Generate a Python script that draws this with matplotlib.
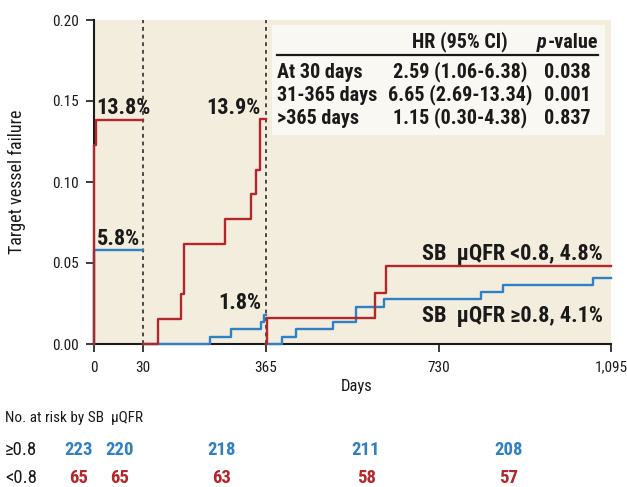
import numpy as np
import matplotlib
matplotlib.use("Agg")
import matplotlib.pyplot as plt
from matplotlib.patches import Rectangle
from matplotlib.lines import Line2D

# ---- data -------------------------------------------------------------
# cumulative incidence, landmark segments (days, value) for each group
red_t1 = [0, 0, 1, 30]
red_v1 = [0, 0.123, 0.138, 0.138]
blue_t1 = [0, 0, 30]
blue_v1 = [0, 0.058, 0.058]

red_t2 = [30, 72, 133, 143, 253, 324, 340, 350, 365]
red_v2 = [0, 0.0154, 0.0308, 0.0615, 0.0769, 0.0923, 0.1077, 0.139, 0.139]
blue_t2 = [30, 213, 269, 353, 360, 365]
blue_v2 = [0, 0.0045, 0.0091, 0.0136, 0.018, 0.018]

red_t3 = [365, 368, 596, 618, 1095]
red_v3 = [0, 0.0159, 0.0317, 0.048, 0.048]
blue_t3 = [365, 400, 430, 507, 555, 614, 820, 866, 1057, 1095]
blue_v3 = [0, 0.0046, 0.0092, 0.0138, 0.0229, 0.0275, 0.0321, 0.0367, 0.041, 0.041]

x_ticks = [0, 30, 365, 730, 1095]
x_tick_labels = ["0", "30", "365", "730", "1,095"]
y_ticks = [0.00, 0.05, 0.10, 0.15, 0.20]

risk_hi = [223, 220, 218, 211, 208]
risk_lo = [65, 65, 63, 58, 57]

hr_rows = ["At 30 days", "31-365 days", ">365 days"]
hr_vals = ["2.59 (1.06-6.38)", "6.65 (2.69-13.34)", "1.15 (0.30-4.38)"]
p_vals = ["0.038", "0.001", "0.837"]

# ---- style ------------------------------------------------------------
RED = "#b3262b"
BLUE = "#2f80c4"
BG = "#f2eddc"
BOX = "#faf8f3"
INK = "#1a1a1a"
plt.rcParams["font.family"] = ["Roboto Condensed", "DejaVu Sans"]

W, H = 627, 487
fig = plt.figure(figsize=(W / 100, H / 100), dpi=100)


def fx(px):
    return px / W


def fy(py):
    return 1 - py / H


ax = fig.add_axes([fx(94), fy(344), fx(611) - fx(94), fy(20) - fy(344)])
ax.set_facecolor(BG)

# piecewise-linear day axis (stretched early period)
axis_pos = [0, 49, 171.3, 344.3, 516]


def fwd(x):
    return np.interp(x, x_ticks, axis_pos)


def inv(p):
    return np.interp(p, axis_pos, x_ticks)


ax.set_xscale("function", functions=(fwd, inv))
ax.set_xlim(0, 1095)
ax.set_ylim(0, 0.20)

for s in ("top", "right"):
    ax.spines[s].set_visible(False)
for s in ("left", "bottom"):
    ax.spines[s].set_linewidth(1.5)
    ax.spines[s].set_color(INK)

ax.set_xticks(x_ticks)
ax.set_xticklabels(x_tick_labels)
ax.set_yticks(y_ticks)
ax.set_yticklabels([f"{v:.2f}" for v in y_ticks])
ax.tick_params(axis="both", length=6, width=1.2, labelsize=11, colors=INK)
ax.tick_params(axis="x", pad=6)
ax.tick_params(axis="y", pad=5)
ax.minorticks_off()

# landmark dividers
for d in (30, 365):
    ax.plot([d, d], [0, 0.20], color=INK, lw=1.1, ls=(0, (2.5, 2.5)), zorder=2)

lw = 1.7
for t, v in ((blue_t1, blue_v1), (blue_t2, blue_v2), (blue_t3, blue_v3)):
    ax.step(t, v, where="post", color=BLUE, lw=lw, clip_on=False, zorder=4)
for t, v in ((red_t1, red_v1), (red_t2, red_v2), (red_t3, red_v3)):
    ax.step(t, v, where="post", color=RED, lw=lw, clip_on=False, zorder=5)

# value annotations
bold = dict(fontweight="bold", fontsize=16, color=INK)
ax.text(1.5, red_v1[-1] + 0.004, "13.8%", ha="left", va="baseline", **bold)
ax.text(1.5, blue_v1[-1] + 0.003, "5.8%", ha="left", va="baseline", **bold)
ax.text(351, red_v2[-1] + 0.003, "13.9%", ha="right", va="baseline", **bold)
ax.text(354, blue_v2[-1] + 0.0036, "1.8%", ha="right", va="baseline", **bold)
ax.text(1078, red_v3[-1] + 0.004, "SB  \u03bcQFR <0.8, 4.8%", ha="right",
        va="baseline", **bold)
ax.text(1078, 0.0138, "SB  \u03bcQFR \u22650.8, 4.1%", ha="right",
        va="baseline", **bold)

ax.set_ylabel("Target vessel failure", fontsize=13, color=INK, labelpad=19)
fig.text(fx(357), fy(387), "Days", ha="center", va="center", fontsize=12,
         color=INK)

# hazard ratio table
fig.patches.append(Rectangle((fx(272), fy(135)), fx(605) - fx(272), fy(25) - fy(135),
                             transform=fig.transFigure, facecolor=BOX,
                             edgecolor="none", zorder=6))
fig.lines.append(Line2D([fx(277), fx(598)], [fy(55), fy(55)],
                        transform=fig.transFigure, color=INK, lw=1.6,
                        zorder=7))
tb = dict(fontweight="bold", fontsize=14.5, color=INK, va="center", zorder=8)
fig.text(fx(460), fy(42), "HR (95% CI)", ha="center", **tb)
fig.text(fx(546), fy(42), "p", ha="right", style="italic", **tb)
fig.text(fx(598), fy(42), "-value", ha="right", **tb)
for i, (lab, hr, p) in enumerate(zip(hr_rows, hr_vals, p_vals)):
    y = fy(72 + 23 * i)
    fig.text(fx(277), y, lab, ha="left", **tb)
    fig.text(fx(460), y, hr, ha="center", **tb)
    fig.text(fx(567), y, p, ha="center", **tb)

# number at risk
fig.text(fx(5), fy(418), "No. at risk by SB  \u03bcQFR", ha="left", va="center",
         fontsize=11, color=INK)
fig.text(fx(5), fy(450), "\u22650.8", ha="left", va="center", fontsize=13.5,
         color=INK)
fig.text(fx(5), fy(478), "<0.8", ha="left", va="center", fontsize=13.5,
         color=INK)
risk_x = [79, 120, 222, 366, 509]
for xp, n in zip(risk_x, risk_hi):
    fig.text(fx(xp), fy(450), str(n), ha="center", va="center", fontsize=13.5,
             fontweight="bold", color=BLUE)
for xp, n in zip(risk_x, risk_lo):
    fig.text(fx(xp), fy(478), str(n), ha="center", va="center", fontsize=13.5,
             fontweight="bold", color=RED)

fig.savefig("out.png", dpi=100, facecolor="white")
